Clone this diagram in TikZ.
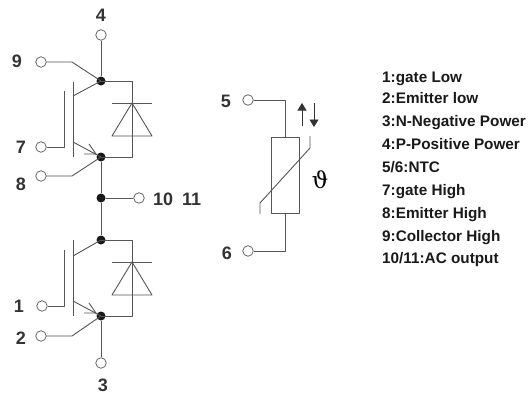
\documentclass[tikz,border=0pt]{standalone}
\usepackage{fontspec}
\setmainfont{Liberation Sans}
\newfontfamily\thetafont{DejaVu Serif}
\usetikzlibrary{arrows.meta}
\definecolor{wire}{HTML}{555555}
\tikzset{
  wireline/.style={draw=wire,line width=0.9pt,line join=round},
  term/.style={circle,draw=wire,line width=0.7pt,fill=white,minimum size=10.5pt,inner sep=0pt},
  dotnode/.style={circle,fill=black!90,minimum size=9pt,inner sep=0pt},
  pin/.style={font=\bfseries\fontsize{18}{18}\selectfont,text=black!80,inner sep=0pt},
  legend/.style={font=\bfseries\fontsize{15.3}{17}\selectfont,text=black!90,anchor=base west,inner sep=0pt}
}
\begin{document}
\begin{tikzpicture}[x=1pt,y=-1pt]
\useasboundingbox (0,0) rectangle (529,396);
% nodes
\node[term] (t4) at (101,35) {};
\node[term] (t9) at (41,62) {};
\node[term] (t7) at (41,147) {};
\node[term] (t8) at (41,176) {};
\node[term] (t10) at (139,198) {};
\node[term] (t1) at (42,306) {};
\node[term] (t2) at (41,336) {};
\node[term] (t3) at (101,363) {};
\node[term] (t5) at (248,100) {};
\node[term] (t6) at (248,251) {};
\node[dotnode] (c1) at (101,81) {};
\node[dotnode] (e1) at (101,157) {};
\node[dotnode] (m) at (101,198) {};
\node[dotnode] (c2) at (101,240) {};
\node[dotnode] (e2) at (101,316) {};
% wires
\draw[wireline] (t4) -- (c1) (e1) -- (m) -- (c2) (e2) -- (t3) (m) -- (t10);
\draw[wireline] (t9) -- (72,62) -- (c1.center);
\draw[wireline] (t8) -- (72,176) -- (e1.center);
\draw[wireline] (t2) -- (72,336) -- (e2.center);
\draw[wireline] (t7) -- (64,147) -- (64,91);
\draw[wireline] (t1) -- (64,306) -- (64,250);
% IGBT upper
\draw[wireline] (73,82) -- (73,157);
\draw[wireline] (c1.center) -- (73,96);
\draw[wireline] (73,142) -- (e1.center);
\draw[wireline] (84,154) -- (96,154) -- (89,144);
% diode upper
\draw[wireline] (c1.center) -- (132,81) -- (132,157) -- (e1.center);
\draw[wireline] (112,103) -- (152,103);
\draw[wireline] (132,103) -- (112,136) -- (152,136) -- cycle;
% IGBT lower
\draw[wireline] (73,240) -- (73,316);
\draw[wireline] (c2.center) -- (73,256);
\draw[wireline] (73,301) -- (e2.center);
\draw[wireline] (84,313) -- (96,313) -- (89,303);
% diode lower
\draw[wireline] (c2.center) -- (132,240) -- (132,316) -- (e2.center);
\draw[wireline] (112,262) -- (152,262);
\draw[wireline] (132,262) -- (112,295) -- (152,295) -- cycle;
% NTC
\draw[wireline] (t5) -- (285,100) -- (285,137);
\draw[wireline] (t6) -- (285,251) -- (285,213);
\draw[wireline] (271,137) rectangle (299,213);
\draw[wireline] (260,214) -- (260,203) -- (310,148) -- (310,136);
\draw[wireline,draw=black!80,-{Triangle[length=7.5pt,width=9pt]}] (302,126) -- (302,103);
\draw[wireline,draw=black!80,-{Triangle[length=7.5pt,width=9pt]}] (314,103) -- (314,127);
\node[inner sep=0pt,font=\thetafont\fontsize{23}{23}\selectfont] (th) at (320,180) {ϑ};
% pin labels
\node[pin] (l4) at (101,15) {4};
\node[pin] (l9) at (17,61) {9};
\node[pin] (l7) at (21,147) {7};
\node[pin] (l8) at (21,184) {8};
\node[pin,anchor=west] (l10) at (153,199) {10\hspace{9pt}11};
\node[pin] (l1) at (19,306) {1};
\node[pin] (l2) at (21,338) {2};
\node[pin] (l3) at (103,385) {3};
\node[pin] (l5) at (226,101) {5};
\node[pin] (l6) at (227,253) {6};
% legend
\node[legend] (k1) at (382,82) {1:gate Low};
\node[legend] (k2) at (382,103) {2:Emitter low};
\node[legend] (k3) at (382,126) {3:N-Negative Power};
\node[legend] (k4) at (382,149) {4:P-Positive Power};
\node[legend] (k5) at (382,172) {5/6:NTC};
\node[legend] (k6) at (382,195) {7:gate High};
\node[legend] (k7) at (382,218) {8:Emitter High};
\node[legend] (k8) at (382,241) {9:Collector High};
\node[legend] (k9) at (382,263) {10/11:AC output};
\end{tikzpicture}
\end{document}
